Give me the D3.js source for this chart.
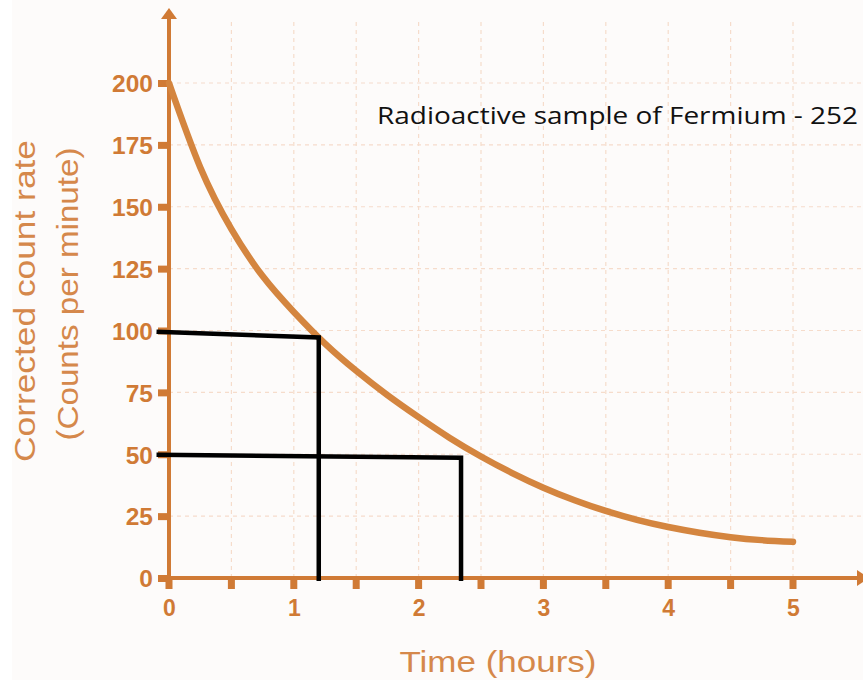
<!DOCTYPE html>
<html>
<head>
<meta charset="utf-8">
<script src="https://cdn.jsdelivr.net/npm/d3@7/dist/d3.min.js"></script>
<style>
  html, body { margin: 0; padding: 0; background: #ffffff; }
  svg { display: block; }
</style>
</head>
<body>
<svg id="chart" width="863" height="680"></svg>
<script>
// ---- data ----
const hours = [0, 0.25, 0.5, 0.75, 1, 1.25, 1.5, 1.75, 2, 2.25, 2.5, 2.75, 3, 3.25, 3.5, 3.75, 4, 4.25, 4.5, 4.75, 5];
const countRate = [200, 166, 141, 122, 107.5, 94.7, 83.7, 73.9, 65, 56.6, 49.1, 42.4, 36.5, 31.4, 27.1, 23.5, 20.6, 18.3, 16.5, 15.3, 14.6];
const yTickValues = [0, 25, 50, 75, 100, 125, 150, 175, 200];
const xTickLabels = [0, 1, 2, 3, 4, 5];
const xMinorTicks = [0, 0.5, 1, 1.5, 2, 2.5, 3, 3.5, 4, 4.5, 5];
// half-life construction lines: [start hour, start rate, corner hour, corner rate]
const halfLifeLines = [
  [-0.1, 99.5, 1.2, 97.2],
  [-0.1, 49.8, 2.34, 48.6]
];
const titleText = "Radioactive sample of Fermium - 252";
const xTitle = "Time (hours)";
const yTitleLines = ["Corrected count rate", "(Counts per minute)"];

// ---- styles ----
const axisColor = "#d07a35";
const curveColor = "#d4853f";
const labelColor = "#d07a35";
const titleColor = "#d5884b";
const gridColor = "#f6dccb";

const svg = d3.select("#chart");
svg.append("rect").attr("width", 863).attr("height", 680).attr("fill", "#fdfbfa");
svg.append("rect").attr("width", 12).attr("height", 680).attr("fill", "#ffffff");

const x = d3.scaleLinear().domain([0, 5]).range([169, 793]);
const y = d3.scaleLinear().domain([0, 200]).range([578, 83]);

// grid
const grid = svg.append("g").attr("stroke", gridColor).attr("stroke-width", 1.2).attr("stroke-dasharray", "4,4");
yTickValues.filter(v => v > 0).forEach(v => {
  grid.append("line").attr("x1", x(0)).attr("x2", 863).attr("y1", y(v)).attr("y2", y(v));
});
xMinorTicks.filter(v => v > 0).forEach(v => {
  grid.append("line").attr("x1", x(v)).attr("x2", x(v)).attr("y1", y(0)).attr("y2", 20);
});

// axes lines
svg.append("line").attr("x1", x(0)).attr("x2", x(0)).attr("y1", y(0) + 2).attr("y2", 17)
  .attr("stroke", axisColor).attr("stroke-width", 4);
svg.append("path").attr("d", `M${x(0) - 8},19 L${x(0)},8 L${x(0) + 8},19 Z`).attr("fill", axisColor);
svg.append("line").attr("x1", x(0) - 2).attr("x2", 858).attr("y1", y(0)).attr("y2", y(0))
  .attr("stroke", axisColor).attr("stroke-width", 4);
svg.append("path").attr("d", `M857,${y(0) - 8} L869,${y(0)} L857,${y(0) + 8} Z`).attr("fill", axisColor);

// y ticks + labels
const yAxis = d3.axisLeft(y).tickValues(yTickValues).tickSize(0).tickPadding(16);
const gy = svg.append("g").attr("transform", `translate(${x(0)},0)`).call(yAxis);
gy.select(".domain").remove();
gy.selectAll(".tick text").attr("fill", labelColor).attr("font-family", "Liberation Sans, Arial, sans-serif")
  .attr("font-weight", "bold").attr("font-size", 24.5).attr("dy", "0.36em");
gy.selectAll(".tick").append("rect").attr("x", -11).attr("y", -3.5).attr("width", 11).attr("height", 7).attr("fill", axisColor);

// x ticks + labels
svg.append("g").selectAll("rect").data(xMinorTicks).join("rect")
  .attr("x", d => x(d) - 3.5).attr("y", y(0)).attr("width", 7).attr("height", 11).attr("fill", axisColor);
const xAxis = d3.axisBottom(x).tickValues(xTickLabels).tickSize(0).tickPadding(22).tickFormat(d3.format("d"));
const gx = svg.append("g").attr("transform", `translate(0,${y(0)})`).call(xAxis);
gx.select(".domain").remove();
gx.selectAll(".tick text").attr("fill", labelColor).attr("font-family", "Liberation Sans, Arial, sans-serif")
  .attr("font-weight", "bold").attr("font-size", 23);

// curve
const line = d3.line().x((d, i) => x(hours[i])).y(d => y(d)).curve(d3.curveNatural);
svg.append("path").datum(countRate).attr("d", line).attr("fill", "none")
  .attr("stroke", curveColor).attr("stroke-width", 6.5).attr("stroke-linecap", "round");

// half-life lines
const hl = svg.append("g").attr("fill", "none").attr("stroke", "#000").attr("stroke-width", 4.5);
halfLifeLines.forEach(d => {
  hl.append("path").attr("d", `M${x(d[0])},${y(d[1])} L${x(d[2])},${y(d[3])} L${x(d[2])},${y(0) + 3}`);
});

// title
svg.append("text").attr("x", 377).attr("y", 124).attr("fill", "#111")
  .attr("font-family", "Open Sans, Noto Sans, sans-serif").attr("font-size", 24.5)
  .attr("textLength", 481).attr("lengthAdjust", "spacingAndGlyphs").text(titleText);

// x title
svg.append("text").attr("x", 498).attr("y", 672).attr("text-anchor", "middle").attr("fill", titleColor)
  .attr("font-family", "Liberation Sans, Arial, sans-serif").attr("font-size", 30)
  .attr("textLength", 197).attr("lengthAdjust", "spacingAndGlyphs").text(xTitle);

// y title
const yt = [[35, 301, 322], [78, 294, 293]];
yTitleLines.forEach((t, i) => {
  svg.append("text").attr("transform", `translate(${yt[i][0]},${yt[i][1]}) rotate(-90)`)
    .attr("text-anchor", "middle").attr("fill", titleColor)
    .attr("font-family", "Liberation Sans, Arial, sans-serif").attr("font-size", 30)
    .attr("textLength", yt[i][2]).attr("lengthAdjust", "spacingAndGlyphs").text(t);
});
</script>
</body>
</html>
